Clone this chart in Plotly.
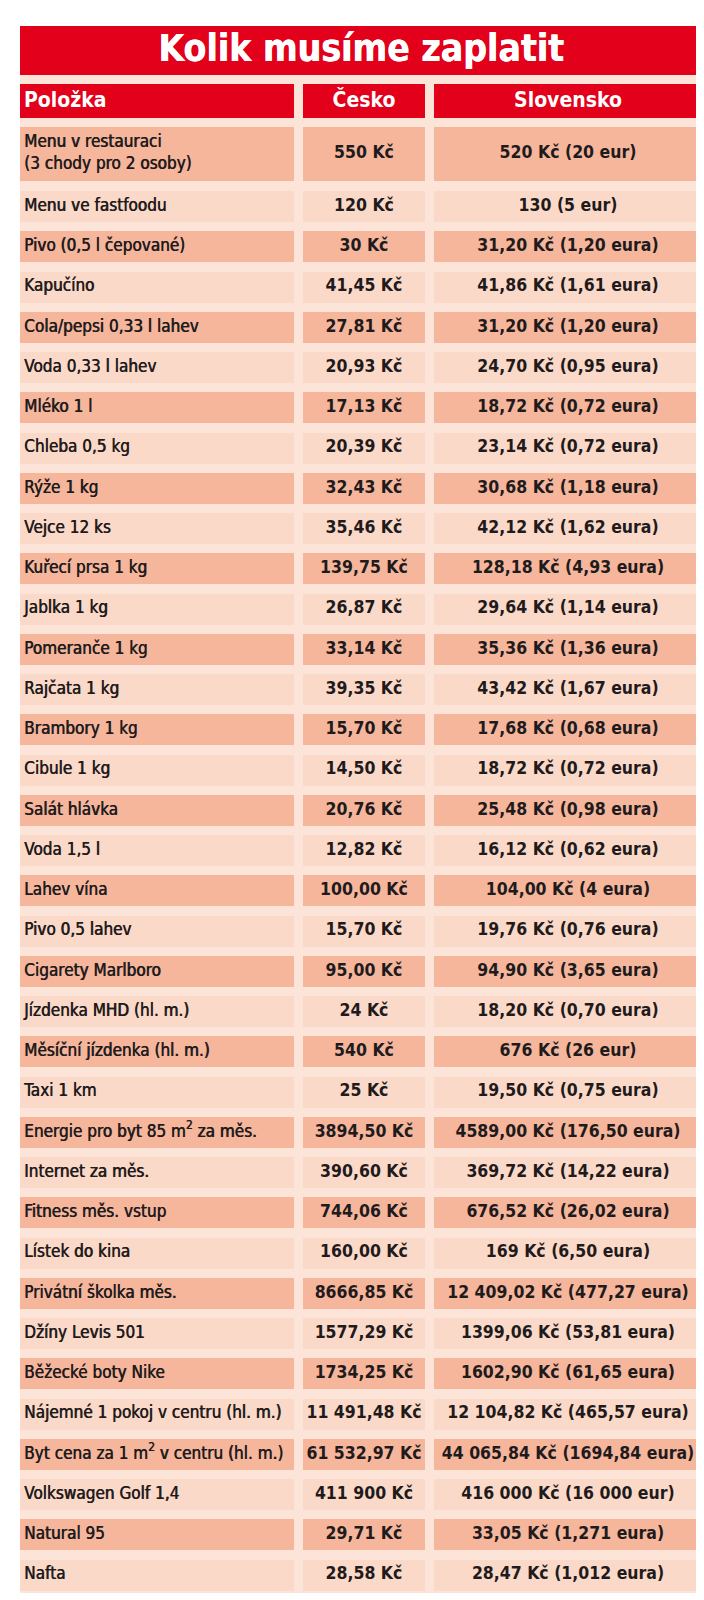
import plotly.graph_objects as go

# ---------------- data ----------------
title_text = "Kolik musíme zaplatit"
headers = ["Položka", "Česko", "Slovensko"]

items = [
    "Menu v restauraci<br>(3 chody pro 2 osoby)", "Menu ve fastfoodu", "Pivo (0,5 l čepované)",
    "Kapučíno", "Cola/pepsi 0,33 l lahev", "Voda 0,33 l lahev", "Mléko 1 l", "Chleba 0,5 kg",
    "Rýže 1 kg", "Vejce 12 ks", "Kuřecí prsa 1 kg", "Jablka 1 kg", "Pomeranče 1 kg",
    "Rajčata 1 kg", "Brambory 1 kg", "Cibule 1 kg", "Salát hlávka", "Voda 1,5 l",
    "Lahev vína", "Pivo 0,5 lahev", "Cigarety Marlboro", "Jízdenka MHD (hl. m.)",
    "Měsíční jízdenka (hl. m.)", "Taxi 1 km", "Energie pro byt 85 m<sup>2</sup> za měs.",
    "Internet za měs.", "Fitness měs. vstup", "Lístek do kina", "Privátní školka měs.",
    "Džíny Levis 501", "Běžecké boty Nike", "Nájemné 1 pokoj v centru (hl. m.)",
    "Byt cena za 1 m<sup>2</sup> v centru (hl. m.)", "Volkswagen Golf 1,4", "Natural 95", "Nafta",
]
cesko = [
    "550 Kč", "120 Kč", "30 Kč", "41,45 Kč", "27,81 Kč", "20,93 Kč", "17,13 Kč", "20,39 Kč",
    "32,43 Kč", "35,46 Kč", "139,75 Kč", "26,87 Kč", "33,14 Kč", "39,35 Kč", "15,70 Kč",
    "14,50 Kč", "20,76 Kč", "12,82 Kč", "100,00 Kč", "15,70 Kč", "95,00 Kč", "24 Kč",
    "540 Kč", "25 Kč", "3894,50 Kč", "390,60 Kč", "744,06 Kč", "160,00 Kč", "8666,85 Kč",
    "1577,29 Kč", "1734,25 Kč", "11 491,48 Kč", "61 532,97 Kč", "411 900 Kč", "29,71 Kč",
    "28,58 Kč",
]
slovensko = [
    "520 Kč (20 eur)", "130 (5 eur)", "31,20 Kč (1,20 eura)", "41,86 Kč (1,61 eura)",
    "31,20 Kč (1,20 eura)", "24,70 Kč (0,95 eura)", "18,72 Kč (0,72 eura)",
    "23,14 Kč (0,72 eura)", "30,68 Kč (1,18 eura)", "42,12 Kč (1,62 eura)",
    "128,18 Kč (4,93 eura)", "29,64 Kč (1,14 eura)", "35,36 Kč (1,36 eura)",
    "43,42 Kč (1,67 eura)", "17,68 Kč (0,68 eura)", "18,72 Kč (0,72 eura)",
    "25,48 Kč (0,98 eura)", "16,12 Kč (0,62 eura)", "104,00 Kč (4 eura)",
    "19,76 Kč (0,76 eura)", "94,90 Kč (3,65 eura)", "18,20 Kč (0,70 eura)",
    "676 Kč (26 eur)", "19,50 Kč (0,75 eura)", "4589,00 Kč (176,50 eura)",
    "369,72 Kč (14,22 eura)", "676,52 Kč (26,02 eura)", "169 Kč (6,50 eura)",
    "12 409,02 Kč (477,27 eura)", "1399,06 Kč (53,81 eura)", "1602,90 Kč (61,65 eura)",
    "12 104,82 Kč (465,57 eura)", "44 065,84 Kč (1694,84 eura)", "416 000 Kč (16 000 eur)",
    "33,05 Kč (1,271 eura)", "28,47 Kč (1,012 eura)",
]

# ---------------- layout constants ----------------
W, H = 704, 1600
RED = "#e2001a"
DARK = "#f5b69c"
LIGHT = "#fbd9c8"
GAP = "#fde4d8"
INK = "#1f1b1c"
FONT = "DejaVu Sans Condensed, Liberation Sans Narrow, Roboto Condensed, sans-serif"

col_left = [12, 295, 426]
col_right = [286, 417, 694]
TITLE_TOP, TITLE_BOT = 18, 67
HEAD_TOP, HEAD_BOT = 76, 110
ROW1_TOP, ROW1_H = 119, 54
ROW_TOP0, ROW_PITCH, ROW_H = 183, 40.25, 31
BOTTOM = 1585
TEXT_X_PAD = 4

n = len(items)
tops = [ROW1_TOP] + [ROW_TOP0 + (i - 1) * ROW_PITCH for i in range(1, n)]
heights = [ROW1_H] + [ROW_H] * (n - 1)
centers = [t + h / 2 for t, h in zip(tops, heights)]
row_colors = [DARK if i % 2 == 0 else LIGHT for i in range(n)]

fig = go.Figure()

# container background
fig.add_trace(go.Bar(
    orientation="h", y=[(TITLE_TOP + BOTTOM) / 2], base=[col_left[0]],
    x=[col_right[2] - col_left[0]], width=[BOTTOM - TITLE_TOP],
    marker=dict(color=GAP, line=dict(width=0)), hoverinfo="skip", showlegend=False,
))
# title band
fig.add_trace(go.Bar(
    orientation="h", y=[(TITLE_TOP + TITLE_BOT) / 2], base=[col_left[0]],
    x=[col_right[2] - col_left[0]], width=[TITLE_BOT - TITLE_TOP],
    marker=dict(color=RED, line=dict(width=0)), hoverinfo="skip", showlegend=False,
))
# header cells
fig.add_trace(go.Bar(
    orientation="h", y=[(HEAD_TOP + HEAD_BOT) / 2] * 3, base=col_left,
    x=[r - l for l, r in zip(col_left, col_right)], width=[HEAD_BOT - HEAD_TOP] * 3,
    marker=dict(color=RED, line=dict(width=0)), hoverinfo="skip", showlegend=False,
))
# body cells
for c in range(3):
    fig.add_trace(go.Bar(
        orientation="h", y=centers, base=[col_left[c]] * n,
        x=[col_right[c] - col_left[c]] * n, width=heights,
        marker=dict(color=row_colors, line=dict(width=0)), hoverinfo="skip", showlegend=False,
    ))

# title text
fig.add_trace(go.Scatter(
    x=[(col_left[0] + col_right[2]) / 2], y=[(TITLE_TOP + TITLE_BOT) / 2 + 1], mode="text",
    text=[title_text], textposition="middle center",
    textfont=dict(family=FONT, size=37, color="white", weight="bold",
                  shadow="0.6px 0px 0px white"),
    hoverinfo="skip", showlegend=False,
))
# header text
hx = [col_left[0] + TEXT_X_PAD, (col_left[1] + col_right[1]) / 2, (col_left[2] + col_right[2]) / 2]
hpos = ["middle right", "middle center", "middle center"]
for c in range(3):
    fig.add_trace(go.Scatter(
        x=[hx[c]], y=[(HEAD_TOP + HEAD_BOT) / 2 + 1], mode="text", text=[headers[c]],
        textposition=hpos[c],
        textfont=dict(family=FONT, size=21, color="white", weight="bold"),
        hoverinfo="skip", showlegend=False,
    ))
# body text
fig.add_trace(go.Scatter(
    x=[col_left[0] + TEXT_X_PAD] * n, y=centers, mode="text", text=items, textposition="middle right",
    textfont=dict(family=FONT, size=17, color=INK, shadow="0.6px 0px 0px " + INK),
    hoverinfo="skip", showlegend=False,
))
fig.add_trace(go.Scatter(
    x=[(col_left[1] + col_right[1]) / 2] * n, y=centers, mode="text", text=cesko,
    textposition="middle center",
    textfont=dict(family=FONT, size=17.5, color=INK, weight="bold"), hoverinfo="skip", showlegend=False,
))
fig.add_trace(go.Scatter(
    x=[(col_left[2] + col_right[2]) / 2] * n, y=centers, mode="text", text=slovensko,
    textposition="middle center",
    textfont=dict(family=FONT, size=17.5, color=INK, weight="bold"), hoverinfo="skip", showlegend=False,
))

fig.update_layout(
    width=W, height=H, autosize=False,
    margin=dict(l=0, r=0, t=0, b=0, pad=0),
    paper_bgcolor="white", plot_bgcolor="white",
    barmode="overlay", bargap=0,
    xaxis=dict(range=[0, W], visible=False, fixedrange=True),
    yaxis=dict(range=[H, 0], visible=False, fixedrange=True),
    showlegend=False,
)
fig.write_html("out.html", config={"displayModeBar": False})
